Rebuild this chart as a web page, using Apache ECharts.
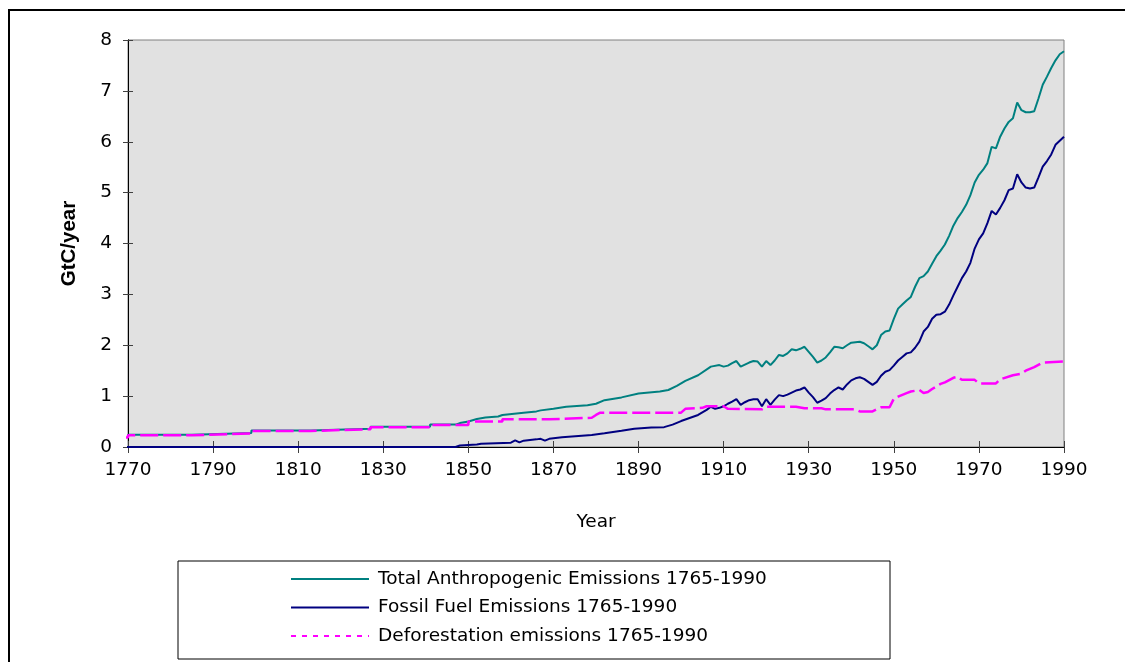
<!DOCTYPE html>
<html>
<head>
<meta charset="utf-8">
<script src="https://cdn.jsdelivr.net/npm/echarts@6/dist/echarts.min.js"></script>
<style>
  html, body { margin: 0; padding: 0; background: #fff; }
  #chart { width: 1125px; height: 662px; }
</style>
</head>
<body>
<div id="chart"></div>
<script>
// values, GtC per year
var totalYears = [1768,1770,1770,1785,1785,1799,1799,1813,1813,1827,1827,1841,1841,1847,1848,1850,1852,1854,1857,1858,1863,1866,1867,1870,1873,1878,1880,1882,1886,1890,1895,1897,1899,1901,1904,1907,1909,1910,1911,1912,1913,1914,1915,1916,1917,1918,1919,1920,1921,1922,1923,1924,1925,1926,1927,1928,1929,1930,1931,1932,1933,1934,1935,1936,1937,1938,1939,1940,1941,1942,1943,1944,1945,1946,1947,1948,1949,1950,1951,1952,1953,1954,1955,1956,1957,1958,1959,1960,1961,1962,1963,1964,1965,1966,1967,1968,1969,1970,1971,1972,1973,1974,1975,1976,1977,1978,1979,1980,1981,1982,1983,1984,1985,1986,1987,1988,1989,1990];
var totalValues = [0.2,0.2,0.24,0.24,0.275,0.275,0.325,0.325,0.36,0.36,0.4,0.4,0.44,0.44,0.47,0.5,0.55,0.58,0.6,0.63,0.675,0.7,0.72,0.75,0.79,0.82,0.85,0.92,0.975,1.05,1.09,1.12,1.2,1.3,1.41,1.58,1.61,1.58,1.6,1.65,1.69,1.58,1.62,1.66,1.69,1.68,1.58,1.69,1.61,1.7,1.81,1.79,1.84,1.92,1.9,1.93,1.97,1.87,1.77,1.66,1.7,1.76,1.86,1.97,1.96,1.94,2.0,2.05,2.06,2.07,2.04,1.98,1.92,2.0,2.2,2.27,2.29,2.52,2.72,2.8,2.88,2.95,3.15,3.32,3.36,3.45,3.6,3.75,3.86,3.98,4.15,4.35,4.5,4.62,4.76,4.95,5.2,5.35,5.45,5.58,5.9,5.87,6.1,6.26,6.39,6.46,6.77,6.62,6.58,6.58,6.6,6.85,7.12,7.28,7.45,7.6,7.72,7.78];

var fossilYears = [1768,1847,1848,1852,1853,1860,1861,1862,1863,1866,1867,1868,1869,1872,1879,1882,1886,1889,1893,1896,1898,1900,1902,1904,1906,1907,1908,1909,1910,1911,1912,1913,1914,1915,1916,1917,1918,1919,1920,1921,1922,1923,1924,1925,1926,1927,1928,1929,1930,1931,1932,1933,1934,1935,1936,1937,1938,1939,1940,1941,1942,1943,1944,1945,1946,1947,1948,1949,1950,1951,1952,1953,1954,1955,1956,1957,1958,1959,1960,1961,1962,1963,1964,1965,1966,1967,1968,1969,1970,1971,1972,1973,1974,1975,1976,1977,1978,1979,1980,1981,1982,1983,1984,1985,1986,1987,1988,1989,1990];
var fossilValues = [0,0,0.03,0.05,0.065,0.085,0.13,0.09,0.125,0.15,0.16,0.125,0.16,0.19,0.235,0.27,0.32,0.36,0.385,0.39,0.44,0.51,0.57,0.63,0.73,0.79,0.75,0.77,0.8,0.85,0.89,0.94,0.83,0.88,0.92,0.94,0.94,0.8,0.94,0.83,0.93,1.02,1.0,1.03,1.07,1.11,1.13,1.17,1.07,0.98,0.87,0.91,0.96,1.05,1.12,1.17,1.13,1.23,1.31,1.35,1.37,1.34,1.28,1.22,1.28,1.4,1.48,1.51,1.6,1.7,1.77,1.84,1.86,1.95,2.07,2.27,2.36,2.52,2.6,2.61,2.66,2.8,2.98,3.15,3.32,3.45,3.62,3.9,4.08,4.2,4.4,4.64,4.57,4.7,4.85,5.05,5.08,5.36,5.2,5.1,5.08,5.1,5.3,5.51,5.62,5.75,5.94,6.02,6.1];

var deforYears = [1768,1770,1770,1785,1785,1799,1799,1813,1813,1827,1827,1841,1841,1850,1850,1858,1858,1869,1869,1879,1880,1881,1900,1901,1905,1906,1910,1911,1919,1920,1927,1929,1933,1934,1941,1942,1945,1946,1947,1949,1950,1951,1953,1954,1956,1957,1958,1959,1961,1962,1964,1965,1966,1969,1970,1974,1975,1978,1980,1981,1983,1985,1990];
var deforValues = [0.185,0.185,0.23,0.23,0.265,0.265,0.315,0.315,0.35,0.35,0.39,0.39,0.43,0.43,0.5,0.5,0.545,0.545,0.575,0.575,0.63,0.675,0.675,0.75,0.77,0.8,0.8,0.75,0.74,0.79,0.79,0.76,0.76,0.74,0.74,0.7,0.7,0.74,0.78,0.78,0.95,0.99,1.06,1.09,1.12,1.06,1.08,1.14,1.24,1.27,1.36,1.38,1.32,1.32,1.25,1.25,1.33,1.41,1.44,1.5,1.57,1.66,1.68];

var yearTicks = [1770, 1990, 20];
var gtcTicks = [0, 8, 1];
var seriesNames = ['Total Anthropogenic Emissions 1765-1990', 'Fossil Fuel Emissions 1765-1990', 'Deforestation emissions 1765-1990'];

function pairs(xs, ys){
    var out = [];
    for (var i = 0; i < xs.length; i++) {
        out.push([xs[i], ys[i]]);
    }
    return out;
}

// the source text is a stretched Arial, DejaVu Sans matches its size best
var FONT = 'DejaVu Sans';
var FS = 18.5;
var chart = echarts.init(document.getElementById('chart'));

var xBase = {
    type: 'value',
    min: yearTicks[0], max: yearTicks[1], interval: yearTicks[2],
    splitLine: { show: false },
    axisLine: { show: true, onZero: false, lineStyle: { color: '#000', width: 1 } }
};
var yBase = {
    type: 'value',
    min: gtcTicks[0], max: gtcTicks[1], interval: gtcTicks[2],
    splitLine: { show: false },
    axisLine: { show: true, onZero: false, lineStyle: { color: '#000', width: 1 } }
};

var option = {
    animation: false,
    backgroundColor: '#fff',
    textStyle: { fontFamily: FONT },
    graphic: [
        { type: 'rect', shape: { x: 9, y: 10, width: 1130, height: 680 },
          style: { fill: 'none', stroke: '#000', lineWidth: 2 }, z: -1 },
        { type: 'rect', shape: { x: 178, y: 561, width: 712, height: 98 },
          style: { fill: '#fff', stroke: '#000', lineWidth: 1 }, z: 0 }
    ],
    grid: {
        left: 128, top: 40, width: 936, height: 407,
        show: true, backgroundColor: '#e1e1e1', borderColor: '#808080', borderWidth: 1
    },
    xAxis: [
        Object.assign({}, xBase, {
            position: 'bottom',
            name: 'Year', nameLocation: 'middle', nameGap: 66,
            nameTextStyle: { fontFamily: FONT, fontSize: FS, color: '#000' },
            axisTick: { show: true, inside: false, length: 6, lineStyle: { color: '#404040' } },
            axisLabel: { fontFamily: FONT, fontSize: FS, color: '#000', margin: 14,
                         formatter: function (v) { return String(v); } }
        }),
        Object.assign({}, xBase, {
            position: 'bottom',
            axisTick: { show: true, inside: true, length: 6, lineStyle: { color: '#404040' } },
            axisLabel: { show: false }
        })
    ],
    yAxis: [
        Object.assign({}, yBase, {
            position: 'left',
            name: 'GtC/year', nameLocation: 'middle', nameGap: 48,
            nameTextStyle: { fontFamily: 'Liberation Sans', fontSize: 20.5, fontWeight: 'bold', color: '#000' },
            axisTick: { show: true, inside: false, length: 5, lineStyle: { color: '#404040' } },
            axisLabel: { fontFamily: FONT, fontSize: FS, color: '#000', margin: 16 }
        }),
        Object.assign({}, yBase, {
            position: 'left',
            axisTick: { show: true, inside: true, length: 5, lineStyle: { color: '#404040' } },
            axisLabel: { show: false }
        })
    ],
    legend: {
        orient: 'vertical',
        left: 290, top: 569,
        padding: 0,
        itemWidth: 78, itemHeight: 20, itemGap: 8.5,
        selectedMode: false,
        itemStyle: { opacity: 0, borderWidth: 0 },
        textStyle: { fontFamily: FONT, fontSize: FS, color: '#000', lineHeight: 20, padding: [0, 0, 0, 4] },
        data: [
            { name: seriesNames[0] },
            { name: seriesNames[1] },
            { name: seriesNames[2], lineStyle: { type: [5, 6], width: 2 } }
        ]
    },
    series: [
        {
            name: seriesNames[0], type: 'line', xAxisIndex: 0, yAxisIndex: 0,
            data: pairs(totalYears, totalValues),
            symbol: 'none', clip: false,
            lineStyle: { color: '#008080', width: 2 }, itemStyle: { color: '#008080' }
        },
        {
            name: seriesNames[1], type: 'line', xAxisIndex: 0, yAxisIndex: 0,
            data: pairs(fossilYears, fossilValues),
            symbol: 'none', clip: false,
            lineStyle: { color: '#000080', width: 2 }, itemStyle: { color: '#000080' }
        },
        {
            name: seriesNames[2], type: 'line', xAxisIndex: 0, yAxisIndex: 0,
            data: pairs(deforYears, deforValues),
            symbol: 'none', clip: false,
            lineStyle: { color: '#ff00ff', width: 2.5, type: [18, 5] }, itemStyle: { color: '#ff00ff' }
        }
    ]
};

chart.setOption(option);
</script>
</body>
</html>
